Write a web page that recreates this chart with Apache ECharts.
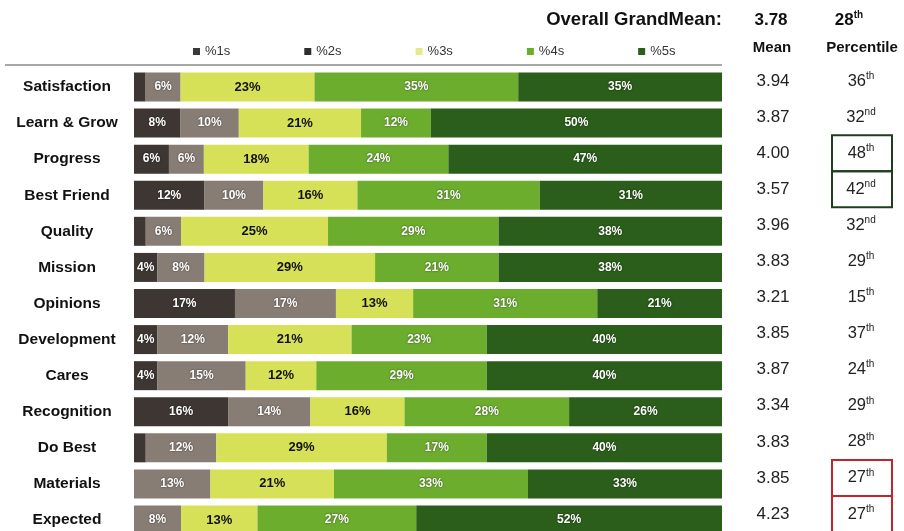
<!DOCTYPE html>
<html>
<head>
<meta charset="utf-8">
<script src="https://cdn.jsdelivr.net/npm/echarts@6/dist/echarts.min.js"></script>
<style>
  html, body { margin: 0; padding: 0; background: #fff; }
  #chart { width: 904px; height: 531px; }
</style>
</head>
<body>
<div id="chart"></div>
<script>
// ---- data ----
const categories = ['Satisfaction', 'Learn & Grow', 'Progress', 'Best Friend', 'Quality', 'Mission', 'Opinions', 'Development', 'Cares', 'Recognition', 'Do Best', 'Materials', 'Expected'];
const seriesNames = ['%1s', '%2s', '%3s', '%4s', '%5s'];
const pct1 = [2, 8, 6, 12, 2, 4, 17, 4, 4, 16, 2, 0, 0];
const pct2 = [6, 10, 6, 10, 6, 8, 17, 12, 15, 14, 12, 13, 8];
const pct3 = [23, 21, 18, 16, 25, 29, 13, 21, 12, 16, 29, 21, 13];
const pct4 = [35, 12, 24, 31, 29, 21, 31, 23, 29, 28, 17, 33, 27];
const pct5 = [35, 50, 47, 31, 38, 38, 21, 40, 40, 26, 40, 33, 52];
const means = ['3.94', '3.87', '4.00', '3.57', '3.96', '3.83', '3.21', '3.85', '3.87', '3.34', '3.83', '3.85', '4.23'];
const percentiles = [36, 32, 48, 42, 32, 29, 15, 37, 24, 29, 28, 27, 27];
const grandMean = '3.78';
const grandPercentile = 28;
const boxedGreen = ['Progress', 'Best Friend'];
const boxedRed = ['Materials', 'Expected'];

// ---- styling ----
const FONT = 'Liberation Sans, Arial, Helvetica, sans-serif';
const colors = ['#3d3633', '#887d75', '#d7e158', '#6cad2e', '#2b5e1a'];
const legendColors = ['#3a3a3a', '#2e2e2e', '#e3ea8a', '#6cad2e', '#2b5e1a'];

function ordinal(n) {
  const t = n % 100;
  if (t >= 11 && t <= 13) return 'th';
  switch (n % 10) { case 1: return 'st'; case 2: return 'nd'; case 3: return 'rd'; default: return 'th'; }
}

const allPct = [pct1, pct2, pct3, pct4, pct5];
const rowSums = categories.map((c, i) => allPct.reduce((s, a) => s + a[i], 0));

const chart = echarts.init(document.getElementById('chart'), null, { renderer: 'canvas' });

const series = seriesNames.map((name, k) => ({
  name: name,
  type: 'bar',
  stack: 'total',
  barWidth: 29,
  clip: false,
  itemStyle: { color: colors[k] },
  data: allPct[k].map((v, i) => v / rowSums[i] * 100),
  label: {
    show: true,
    position: 'inside',
    fontFamily: FONT,
    fontWeight: 'bold',
    fontSize: k === 2 ? 13 : 12,
    color: k === 2 ? '#111' : '#ffffff',
    textShadowColor: k === 2 ? 'transparent' : 'rgba(0,0,0,0.6)',
    textShadowBlur: k === 2 ? 0 : 2,
    formatter: p => {
      const raw = allPct[k][p.dataIndex];
      return raw >= 3 ? raw + '%' : '';
    }
  },
  emphasis: { disabled: true }
}));

chart.setOption({
  animation: false,
  backgroundColor: '#ffffff',
  grid: { left: 134, right: 182, top: 87, height: 433 },
  xAxis: { type: 'value', min: 0, max: 100, show: false },
  yAxis: {
    type: 'category',
    data: categories,
    inverse: true,
    boundaryGap: false,
    axisLine: { show: false },
    axisTick: { show: false },
    splitLine: { show: false },
    axisLabel: {
      align: 'center',
      margin: 67,
      fontFamily: FONT,
      fontWeight: 'bold',
      fontSize: 15.5,
      color: '#111'
    }
  },
  legend: {
    left: 188,
    top: 40,
    icon: 'rect',
    itemWidth: 7,
    itemHeight: 7,
    itemGap: 74,
    selectedMode: false,
    textStyle: { fontFamily: FONT, fontSize: 13, color: '#333' },
    data: seriesNames.map((n, k) => ({ name: n, itemStyle: { color: legendColors[k] } }))
  },
  series: series
});

// ---- annotation texts positioned from the category axis ----
const graphics = [];
const TEXT_OFF = -6;

graphics.push({
  type: 'line', silent: true,
  shape: { x1: 5, y1: 65, x2: 722, y2: 65 },
  style: { stroke: '#a8a8a8', lineWidth: 2 }
});

graphics.push({
  type: 'text', silent: true,
  style: { text: 'Overall GrandMean:', x: 722, y: 20, align: 'right', verticalAlign: 'middle',
    font: 'bold 18.5px ' + FONT, fill: '#111' }
});
graphics.push({
  type: 'text', silent: true,
  style: { text: grandMean, x: 771, y: 20, align: 'center', verticalAlign: 'middle',
    font: 'bold 17px ' + FONT, fill: '#111' }
});
graphics.push({
  type: 'text', silent: true,
  style: {
    text: '{n|' + grandPercentile + '}{s|' + ordinal(grandPercentile) + '}',
    x: 849, y: 20, align: 'center', verticalAlign: 'middle',
    rich: {
      n: { fontFamily: FONT, fontWeight: 'bold', fontSize: 17, lineHeight: 20, fill: '#111', color: '#111' },
      s: { fontFamily: FONT, fontWeight: 'bold', fontSize: 10, lineHeight: 10, verticalAlign: 'top', fill: '#111', color: '#111' }
    }
  }
});
graphics.push({
  type: 'text', silent: true,
  style: { text: 'Mean', x: 772, y: 48, align: 'center', verticalAlign: 'middle',
    font: 'bold 15px ' + FONT, fill: '#111' }
});
graphics.push({
  type: 'text', silent: true,
  style: { text: 'Percentile', x: 862, y: 48, align: 'center', verticalAlign: 'middle',
    font: 'bold 15px ' + FONT, fill: '#111' }
});

categories.forEach((c, i) => {
  const y = chart.convertToPixel({ yAxisIndex: 0 }, c) + TEXT_OFF;
  graphics.push({
    type: 'text', silent: true,
    style: { text: means[i], x: 773, y: y, align: 'center', verticalAlign: 'middle',
      font: '17px ' + FONT, fill: '#222' }
  });
  graphics.push({
    type: 'text', silent: true,
    style: {
      text: '{n|' + percentiles[i] + '}{s|' + ordinal(percentiles[i]) + '}',
      x: 861, y: y, align: 'center', verticalAlign: 'middle',
      rich: {
        n: { fontFamily: FONT, fontSize: 16.5, lineHeight: 20, fill: '#222', color: '#222' },
        s: { fontFamily: FONT, fontSize: 10, lineHeight: 10, verticalAlign: 'top', fill: '#222', color: '#222' }
      }
    }
  });
});

function boxFor(names, stroke) {
  names.forEach(n => {
    const y = chart.convertToPixel({ yAxisIndex: 0 }, n) + TEXT_OFF;
    graphics.push({
      type: 'rect', silent: true, z: 10,
      shape: { x: 832, y: y - 18, width: 60, height: 36 },
      style: { fill: 'none', stroke: stroke, lineWidth: 2 }
    });
  });
}
boxFor(boxedGreen, '#1f3d1f');
boxFor(boxedRed, '#c0262c');

chart.setOption({ graphic: graphics });
</script>
</body>
</html>
